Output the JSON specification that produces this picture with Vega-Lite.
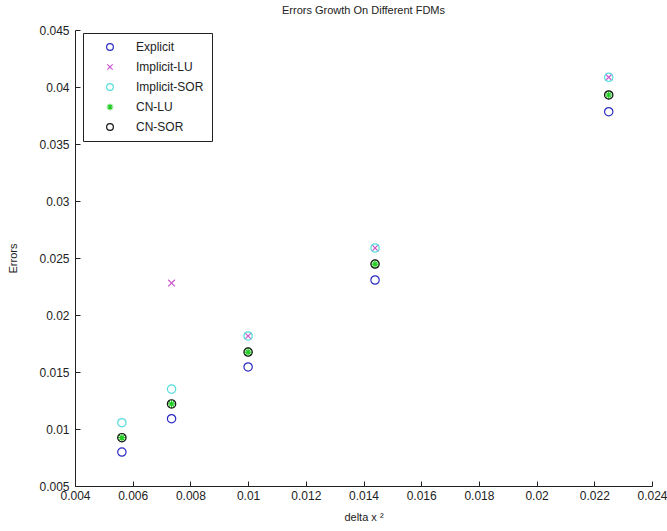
{
  "$schema": "https://vega.github.io/schema/vega-lite/v6.json",
  "width": 577,
  "height": 456,
  "autosize": {"type": "none"},
  "padding": {"left": 75, "top": 30, "right": 15, "bottom": 45},
  "background": "white",
  "title": {"text": "Errors Growth On Different FDMs", "fontSize": 11, "fontWeight": "normal", "font": "Liberation Sans", "color": "#222", "offset": 8},
  "config": {
    "view": {"stroke": null},
    "axis": {"grid": false, "domainColor": "#222", "tickColor": "#222", "tickSize": -5, "labelPadding": 9, "labelFont": "Liberation Sans", "labelFontSize": 12, "labelColor": "#222", "titleFont": "Liberation Sans", "titleFontSize": 11, "titleFontWeight": "normal", "titleColor": "#222"}
  },
  "data": {"values": [
    {"x": 0.005625, "y": 0.00798, "method": "Explicit"},
    {"x": 0.007347, "y": 0.0109, "method": "Explicit"},
    {"x": 0.01, "y": 0.01544, "method": "Explicit"},
    {"x": 0.0144, "y": 0.02307, "method": "Explicit"},
    {"x": 0.0225, "y": 0.03783, "method": "Explicit"},
    {"x": 0.007347, "y": 0.0228, "method": "Implicit-LU"},
    {"x": 0.01, "y": 0.01816, "method": "Implicit-LU"},
    {"x": 0.0144, "y": 0.02588, "method": "Implicit-LU"},
    {"x": 0.0225, "y": 0.04085, "method": "Implicit-LU"},
    {"x": 0.005625, "y": 0.01055, "method": "Implicit-SOR"},
    {"x": 0.007347, "y": 0.0135, "method": "Implicit-SOR"},
    {"x": 0.01, "y": 0.01816, "method": "Implicit-SOR"},
    {"x": 0.0144, "y": 0.02588, "method": "Implicit-SOR"},
    {"x": 0.0225, "y": 0.04085, "method": "Implicit-SOR"},
    {"x": 0.005625, "y": 0.00924, "method": "CN-LU"},
    {"x": 0.007347, "y": 0.0122, "method": "CN-LU"},
    {"x": 0.01, "y": 0.01675, "method": "CN-LU"},
    {"x": 0.0144, "y": 0.02447, "method": "CN-LU"},
    {"x": 0.0225, "y": 0.0393, "method": "CN-LU"},
    {"x": 0.005625, "y": 0.00924, "method": "CN-SOR"},
    {"x": 0.007347, "y": 0.0122, "method": "CN-SOR"},
    {"x": 0.01, "y": 0.01675, "method": "CN-SOR"},
    {"x": 0.0144, "y": 0.02447, "method": "CN-SOR"},
    {"x": 0.0225, "y": 0.0393, "method": "CN-SOR"}
  ]},
  "mark": {"type": "point", "filled": false, "strokeWidth": 1.2, "size": 70, "opacity": 1},
  "encoding": {
    "x": {"field": "x", "type": "quantitative", "title": "delta x ²",
      "scale": {"domain": [0.004, 0.024], "nice": false, "zero": false},
      "axis": {"values": [0.004, 0.006, 0.008, 0.01, 0.012, 0.014, 0.016, 0.018, 0.02, 0.022, 0.024], "format": ".3~f", "titlePadding": 10, "labelFlush": false}},
    "y": {"field": "y", "type": "quantitative", "title": "Errors",
      "scale": {"domain": [0.005, 0.045], "nice": false, "zero": false},
      "axis": {"values": [0.005, 0.01, 0.015, 0.02, 0.025, 0.03, 0.035, 0.04, 0.045], "format": ".3~f", "titlePadding": 20, "labelPadding": 11, "labelFlush": false}},
    "color": {"field": "method", "type": "nominal",
      "scale": {"domain": ["Explicit", "Implicit-LU", "Implicit-SOR", "CN-LU", "CN-SOR"], "range": ["#2b2bc4", "#cc55cc", "#55dddd", "#22cc22", "#111111"]},
      "legend": {"orient": "none", "legendX": 8, "legendY": 3, "title": null, "fillColor": "white", "strokeColor": "#222", "padding": 8, "symbolOffset": 13, "labelOffset": 20, "rowPadding": 8, "labelFont": "Liberation Sans", "labelFontSize": 12, "labelColor": "#222", "symbolSize": 45, "symbolStrokeWidth": 1.2}},
    "shape": {"field": "method", "type": "nominal",
      "scale": {"domain": ["Explicit", "Implicit-LU", "Implicit-SOR", "CN-LU", "CN-SOR"], "range": ["circle", "M-0.8,-0.8L0.8,0.8M-0.8,0.8L0.8,-0.8", "circle", "M-1,0L1,0M0,-1L0,1M-0.7,-0.7L0.7,0.7M-0.7,0.7L0.7,-0.7", "circle"]}},
    "order": {"field": "method", "sort": "ascending"}
  }
}
